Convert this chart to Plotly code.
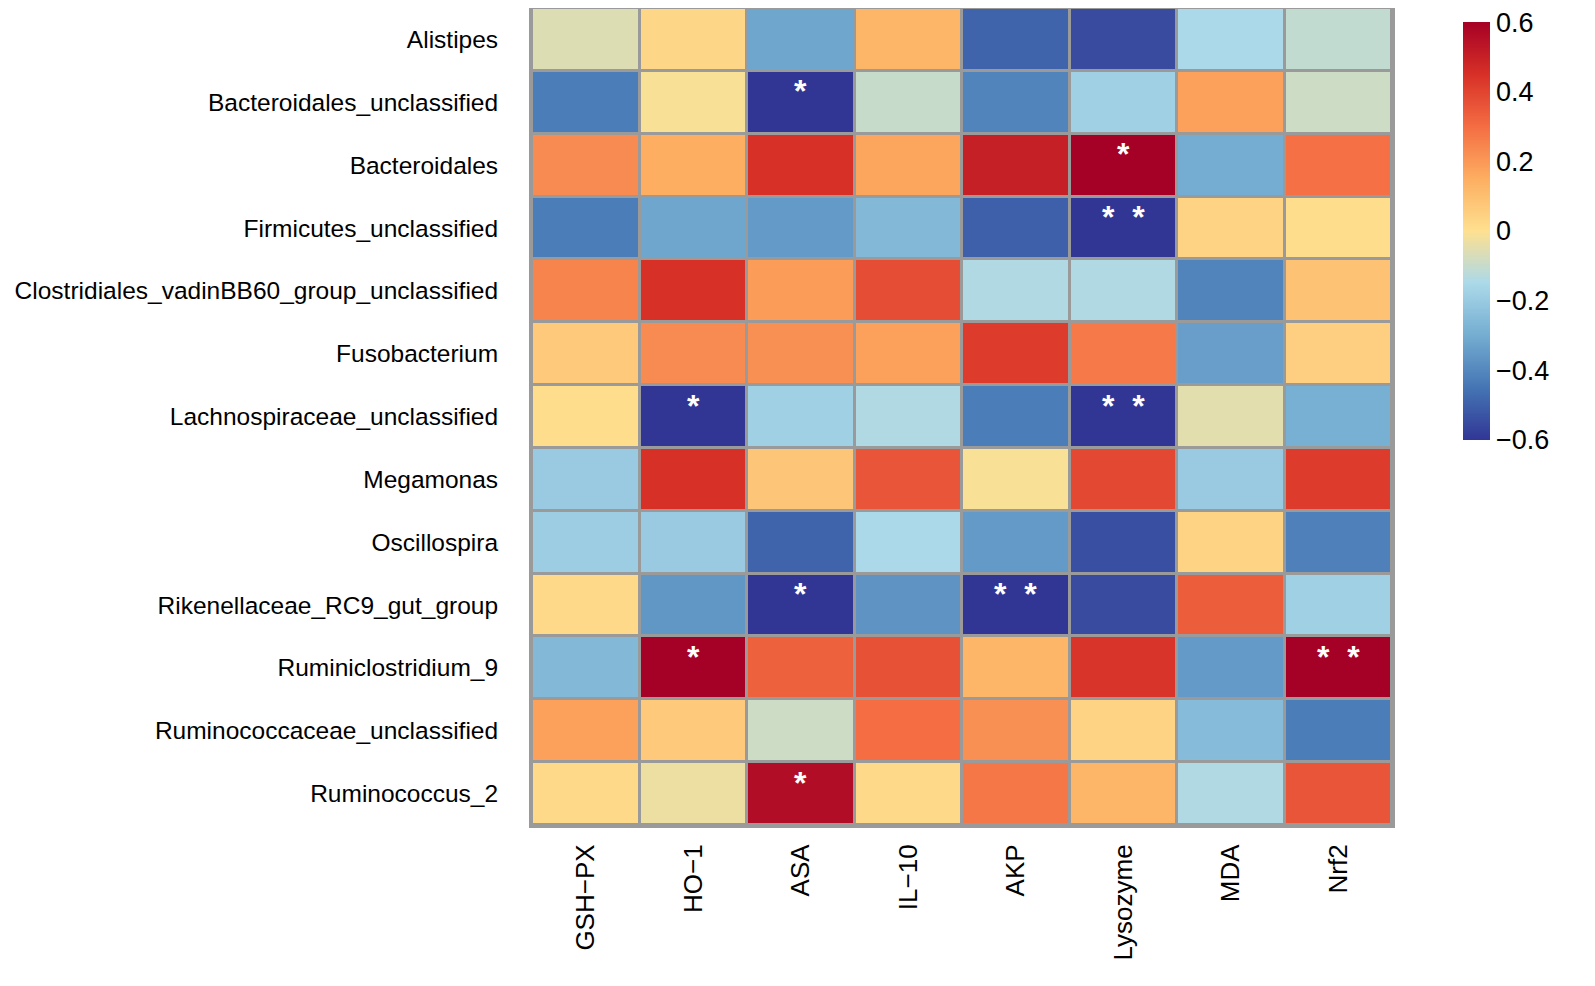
import plotly.graph_objects as go

rows = ["Alistipes", "Bacteroidales_unclassified", "Bacteroidales", "Firmicutes_unclassified",
        "Clostridiales_vadinBB60_group_unclassified", "Fusobacterium", "Lachnospiraceae_unclassified",
        "Megamonas", "Oscillospira", "Rikenellaceae_RC9_gut_group", "Ruminiclostridium_9",
        "Ruminococcaceae_unclassified", "Ruminococcus_2"]
cols = ["GSH\u2212PX", "HO\u22121", "ASA", "IL\u221210", "AKP", "Lysozyme", "MDA", "Nrf2"]

values = [
    [-0.06, 0.03, -0.32, 0.13, -0.49, -0.55, -0.15, -0.11],
    [-0.43, -0.01, -0.60, -0.10, -0.41, -0.18, 0.18, -0.09],
    [0.23, 0.15, 0.45, 0.17, 0.50, 0.60, -0.30, 0.29],
    [-0.43, -0.32, -0.35, -0.26, -0.50, -0.60, 0.04, 0.01],
    [0.25, 0.45, 0.19, 0.38, -0.14, -0.14, -0.41, 0.09],
    [0.07, 0.23, 0.22, 0.18, 0.42, 0.27, -0.34, 0.05],
    [0.01, -0.60, -0.18, -0.14, -0.43, -0.60, -0.05, -0.29],
    [-0.20, 0.45, 0.08, 0.36, -0.01, 0.39, -0.20, 0.42],
    [-0.19, -0.20, -0.49, -0.15, -0.35, -0.54, 0.04, -0.42],
    [0.02, -0.36, -0.60, -0.37, -0.60, -0.55, 0.34, -0.18],
    [-0.26, 0.60, 0.33, 0.37, 0.13, 0.44, -0.35, 0.60],
    [0.18, 0.07, -0.09, 0.30, 0.22, 0.04, -0.25, -0.43],
    [0.02, -0.03, 0.56, 0.02, 0.28, 0.13, -0.14, 0.36],
]

signif = [
    ["", "", "", "", "", "", "", ""],
    ["", "", "*", "", "", "", "", ""],
    ["", "", "", "", "", "*", "", ""],
    ["", "", "", "", "", "**", "", ""],
    ["", "", "", "", "", "", "", ""],
    ["", "", "", "", "", "", "", ""],
    ["", "*", "", "", "", "**", "", ""],
    ["", "", "", "", "", "", "", ""],
    ["", "", "", "", "", "", "", ""],
    ["", "", "*", "", "**", "", "", ""],
    ["", "*", "", "", "", "", "", "**"],
    ["", "", "", "", "", "", "", ""],
    ["", "", "*", "", "", "", "", ""],
]

cbar_ticks = [0.6, 0.4, 0.2, 0, -0.2, -0.4, -0.6]
cbar_text = ["0.6", "0.4", "0.2", "0", "\u22120.2", "\u22120.4", "\u22120.6"]

palette = ["#313695", "#4575B4", "#74ADD1", "#ABD9E9", "#FEE090",
           "#FDAE61", "#F46D43", "#D73027", "#A50026"]
colorscale = [[i / (len(palette) - 1), c] for i, c in enumerate(palette)]

FONT = "Liberation Sans, Arial"

fig = go.Figure()
fig.add_trace(go.Heatmap(
    z=values, x=cols, y=rows, zmin=-0.6005, zmax=0.6005,
    colorscale=colorscale, xgap=3, ygap=3,
    colorbar=dict(
        thickness=27, thicknessmode="pixels", len=418, lenmode="pixels",
        x=1.082, xanchor="left", xpad=0, y=0.983, yanchor="top", ypad=0,
        outlinewidth=0, ticks="", tickvals=cbar_ticks, ticktext=cbar_text,
        ticklabeloverflow="allow",
        tickfont=dict(size=27, color="black", family=FONT),
    ),
))

for i, r in enumerate(rows):
    for j, c in enumerate(cols):
        s = signif[i][j]
        if s:
            txt = "<b>*\u00a0\u00a0*</b>" if s == "**" else "<b>*</b>"
            fig.add_annotation(x=c, y=r, text=txt, showarrow=False, yshift=11,
                               font=dict(size=32, color="white", family=FONT))

fig.update_layout(
    width=1579, height=970,
    margin=dict(l=524, r=195, t=0, b=153, autoexpand=False),
    plot_bgcolor="#9a9a9a", paper_bgcolor="white",
    font=dict(family=FONT, size=25, color="black"),
)
fig.update_xaxes(showline=True, mirror=True, linecolor="#9a9a9a", linewidth=3,
                 tickangle=-90, ticks="", showgrid=False, zeroline=False,
                 ticklabelstandoff=6, tickfont=dict(size=26))
fig.update_yaxes(showline=True, mirror=True, linecolor="#9a9a9a", linewidth=3,
                 autorange="reversed", ticks="", showgrid=False, zeroline=False,
                 ticklabelstandoff=26, tickfont=dict(size=24.5))

fig.write_html("out.html")
